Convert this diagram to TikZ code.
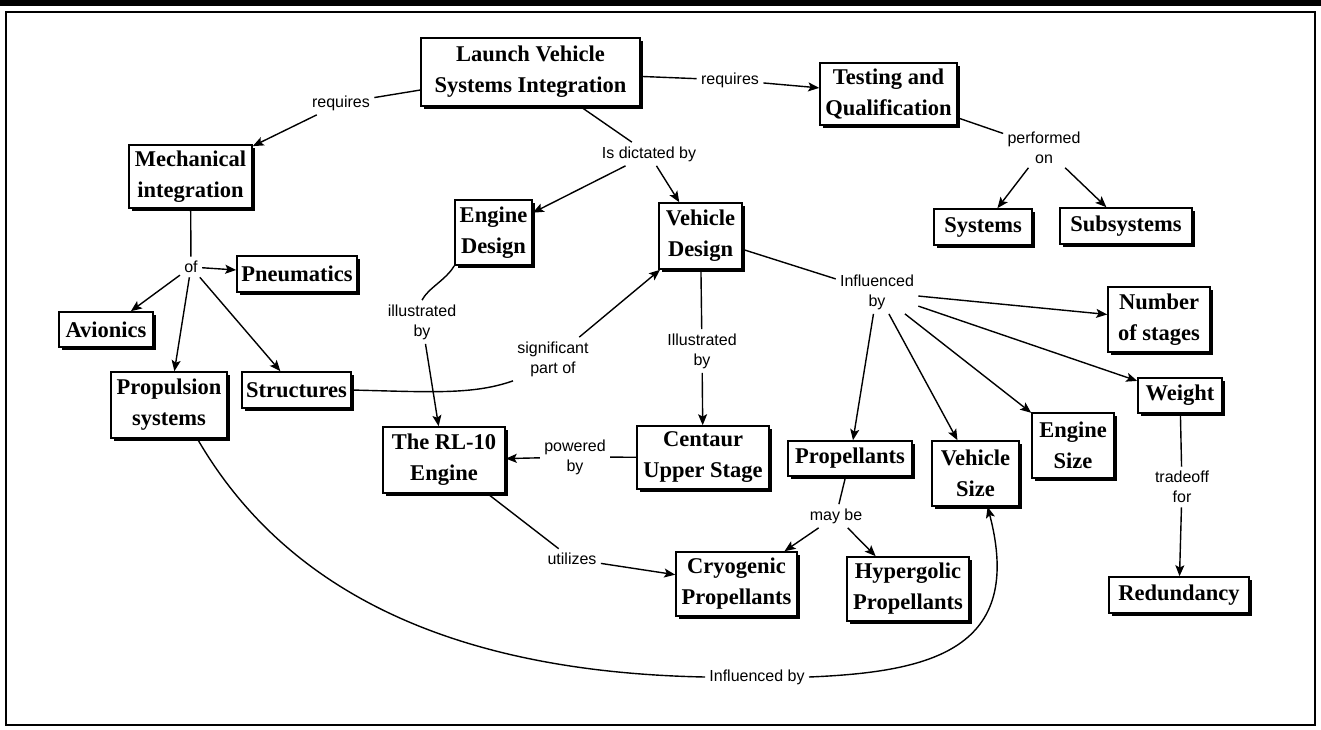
\documentclass[tikz,border=0pt]{standalone}
\usepackage{fontspec}
\setmainfont{Liberation Serif}
\newfontfamily\linkfont{Liberation Sans}
\usetikzlibrary{arrows.meta,shadows}

\tikzset{
    concept/.style 2 args={draw,line width=0.8pt,fill=white,align=center,inner sep=0pt,
      minimum width=#1,minimum height=#2,font=\fontsize{11.25}{15.5}\selectfont\bfseries,
      drop shadow={shadow xshift=1.5pt,shadow yshift=-1.5pt,fill=black,opacity=1}},
    link/.style={align=center,inner sep=2pt,font=\linkfont\fontsize{8}{10}\selectfont},
    rel/.style={line width=0.7pt},
    relto/.style={rel,-{Stealth[length=5.5pt,width=4.5pt,inset=1.2pt]}}
}

\begin{document}
\begin{tikzpicture}[x=0.5pt,y=-0.5pt]
    \useasboundingbox (0,0) rectangle (1321,729);
    \fill (0,0) rectangle (1321,6);
    \draw[line width=1.3pt] (6,12) rectangle (1315,725);
      \node[concept={109.5pt}{34pt}] (LVSI) at (530.5,72) {Launch Vehicle\\Systems Integration};
      \node[concept={68.5pt}{31pt}] (TQ) at (888.5,94) {Testing and\\Qualification};
      \node[concept={61.5pt}{31.5pt}] (MI) at (190.5,176.5) {Mechanical\\integration};
      \node[concept={38.5pt}{32.5pt}] (ED) at (493.5,232.5) {Engine\\Design};
      \node[concept={41.5pt}{33pt}] (VD) at (700.5,236) {Vehicle\\Design};
      \node[concept={49pt}{18pt}] (SY) at (983,227) {Systems};
      \node[concept={66pt}{18pt}] (SU) at (1126,226) {Subsystems};
      \node[concept={60pt}{18pt}] (PN) at (297,274) {Pneumatics};
      \node[concept={47pt}{17.5pt}] (AV) at (106,329.5) {Avionics};
      \node[concept={51pt}{32.5pt}] (NS) at (1159,319.5) {Number\\of stages};
      \node[concept={58pt}{33pt}] (PS) at (169,405) {Propulsion\\systems};
      \node[concept={54.5pt}{18pt}] (ST) at (296.5,390) {Structures};
      \node[concept={42pt}{17.5pt}] (WE) at (1180,395.5) {Weight};
      \node[concept={41pt}{32.5pt}] (ES) at (1073,445.5) {Engine\\Size};
      \node[concept={61pt}{33pt}] (RL) at (444,460) {The RL-10\\Engine};
      \node[concept={66pt}{31.5pt}] (CU) at (703,457.5) {Centaur\\Upper Stage};
      \node[concept={62pt}{17.5pt}] (PR) at (850,458.5) {Propellants};
      \node[concept={43.5pt}{32.5pt}] (VS) at (975.5,473.5) {Vehicle\\Size};
      \node[concept={60.5pt}{32pt}] (CP) at (736.5,584) {Cryogenic\\Propellants};
      \node[concept={61pt}{32pt}] (HP) at (908,589) {Hypergolic\\Propellants};
      \node[concept={70pt}{18pt}] (RE) at (1179,595) {Redundancy};
      \node[link] (req1) at (341,103) {requires};
      \node[link] (req2) at (730,80) {requires};
      \node[link] (dict) at (649,154) {Is dictated by};
      \node[link] (perf) at (1044,147.5) {performed\\on};
      \node[link] (of) at (191,267) {of};
      \node[link] (ill1) at (422,322) {illustrated\\by};
      \node[link] (ill2) at (702,351) {Illustrated\\by};
      \node[link] (inf1) at (877,292) {Influenced\\by};
      \node[link] (sig) at (553,359) {significant\\part of};
      \node[link] (pow) at (575,457) {powered\\by};
      \node[link] (util) at (572,559) {utilizes};
      \node[link] (may) at (836,516) {may be};
      \node[link] (trade) at (1182,487) {tradeoff\\for};
      \node[link] (inf2) at (757,677) {Influenced by};
      \draw[rel] (LVSI) -- (req1);
      \draw[relto] (req1) -- (MI);
      \draw[rel] (LVSI) -- (req2);
      \draw[relto] (req2) -- (TQ);
      \draw[rel] (LVSI) -- (dict);
      \draw[relto] (dict) -- (ED);
      \draw[relto] (dict) -- (VD);
      \draw[rel] (TQ) -- (perf);
      \draw[relto] (perf) -- (SY);
      \draw[relto] (perf) -- (SU);
      \draw[rel] (MI) -- (of);
      \draw[relto] (of) -- (PN);
      \draw[relto] (of) -- (AV);
      \draw[relto] (of) -- (PS);
      \draw[relto] (of) -- (ST);
      \draw[rel] (ED.south west) .. controls +(-8,14) and +(6,-12) .. (ill1.north);
      \draw[relto] (ill1) -- (RL);
      \draw[rel] (ST.east) .. controls +(80,2) and +(-40,14) .. (sig.south west);
      \draw[relto] (sig) -- (VD);
      \draw[rel] (VD) -- (ill2);
      \draw[relto] (ill2) -- (CU);
      \draw[rel] (VD) -- (inf1);
      \draw[relto] (inf1) -- (NS);
      \draw[relto] (inf1) -- (WE);
      \draw[relto] (inf1) -- (ES);
      \draw[relto] (inf1) -- (VS);
      \draw[relto] (inf1) -- (PR);
      \draw[rel] (CU) -- (pow);
      \draw[relto] (pow) -- (RL);
      \draw[rel] (RL) -- (util);
      \draw[relto] (util) -- (CP);
      \draw[rel] (PR) -- (may);
      \draw[relto] (may) -- (CP);
      \draw[relto] (may) -- (HP);
      \draw[rel] (WE) -- (trade);
      \draw[relto] (trade) -- (RE);
      \draw[rel] (PS.-50) .. controls (285,590) and (450,672) .. (inf2.west);
      \draw[relto] (inf2.east) .. controls (930,672) and (1025,650) .. (VS.-70);
\end{tikzpicture}
\end{document}
